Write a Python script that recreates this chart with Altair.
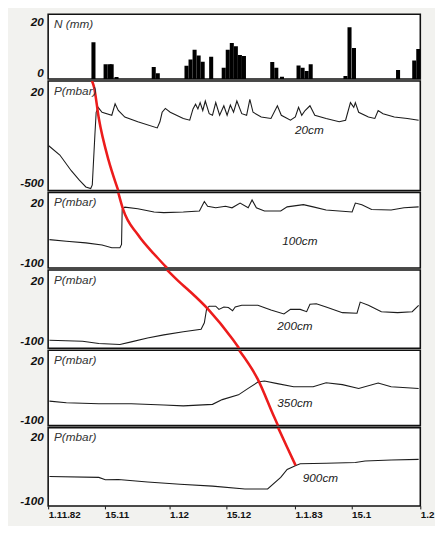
import json
import altair as alt
import pandas as pd

# ---------------- data (days since 1.11.1982) ----------------
tick_days = [0, 14, 30, 44, 61, 75, 92]
tick_labels = ["1.11.82", "15.11", "1.12", "15.12", "1.1.83", "15.1", "1.2"]

# precipitation N (mm): day start, amount
rain_day = [10.7, 13.7, 14.7, 15.2, 16.4, 25.6, 26.6, 33.7, 34.7, 35.7, 36.7, 37.7,
            39.8, 42.9, 43.9, 44.9, 45.9, 46.9, 47.9, 54.9, 55.9, 57.3,
            61.4, 62.4, 63.4, 64.4, 73.0, 74.0, 75.1, 86.0, 90.0, 91.0]
rain_mm = [12.8, 5.1, 5.1, 5.1, 0.7, 4.2, 2.0, 4.6, 6.8, 10.2, 8.2, 6.0,
           7.7, 3.9, 10.2, 12.5, 11.4, 8.3, 8.0, 5.9, 3.9, 0.8,
           4.7, 3.9, 2.8, 5.1, 1.0, 18.0, 10.8, 3.1, 6.4, 10.4]

# 20 cm
d20_day = [0.07, 2.89, 5.71, 7.71, 9.32, 10.52, 10.91, 11.56, 11.87, 12.36, 13.32, 15.73,
           16.55, 17.34, 18.95, 22.16, 26.97, 27.63, 28.18, 28.97, 30.18, 33.41, 35.0,
           35.81, 36.44, 37.02, 37.57, 38.22, 38.85, 39.81, 40.63, 41.43, 42.39, 43.43,
           44.24, 45.04, 45.83, 46.65, 47.86, 49.06, 49.86, 50.65, 52.67, 55.08, 56.67,
           57.64, 59.90, 61.10, 61.90, 62.69, 63.51, 64.72, 65.92, 68.71, 71.94, 73.53,
           74.73, 75.55, 75.94, 76.76, 79.17, 80.76, 81.58, 82.78, 85.57, 88.80, 91.59]
d20_val = [-287, -341, -430, -484, -522, -531, -511, -224, -98, -70, -98, -115,
           -50, -88, -125, -152, -187, -152, -98, -76, -98, -133, -143,
           -79, -52, -79, -43, -88, -34, -106, -115, -43, -115, -61,
           -115, -57, -98, -34, -106, -115, -25, -98, -125, -133, -61,
           -115, -143, -125, -70, -115, -88, -61, -115, -133, -152, -143,
           -43, -70, -43, -98, -125, -133, -88, -106, -125, -133, -143]

# 100 cm
d100_day = [0.31, 4.50, 9.32, 13.32, 15.73, 17.75, 18.14, 18.30, 18.95, 22.16, 26.18,
            28.59, 33.41, 37.40, 38.61, 39.42, 41.43, 43.83, 45.45, 47.45, 49.45, 50.41,
            51.47, 53.47, 57.49, 59.08, 63.10, 65.51, 68.71, 75.14, 75.94, 77.55, 79.96,
            84.78, 87.98, 91.59]
d100_val = [-54.9, -58.1, -61.3, -65.7, -70.9, -70.9, -64.4, 5.3, 9.9, 6.7, 0.4,
            -1.0, 0.4, 2.3, 21.3, 11.8, 8.6, 11.8, 8.6, 18.1, 8.6, 24.4,
            8.6, 2.3, 2.3, 10.5, 14.9, 10.5, 4.2, 0.4, 18.1, 14.9, 5.3,
            4.2, 8.6, 10.5]

# 200 cm
d200_day = [0.31, 8.50, 12.52, 17.75, 20.54, 24.57, 28.59, 33.41, 37.81, 38.61, 39.19,
            39.81, 41.43, 42.22, 43.43, 44.56, 45.59, 46.24, 47.86, 51.85, 55.08, 58.29,
            59.90, 62.31, 63.90, 64.72, 66.30, 68.71, 72.74, 76.35, 77.14, 79.17, 82.37,
            86.39, 90.0, 91.59]
d200_val = [-99.4, -101.3, -105.7, -107.6, -102.5, -94.9, -88.6, -82.3, -77.2, -64.4, -35.8,
            -31.4, -31.4, -37.7, -32.8, -33.9, -40.4, -32.8, -29.5, -29.5, -39.1, -46.7,
            -37.7, -37.7, -42.3, -27.6, -26.3, -32.8, -44.2, -45.3, -23.2, -29.5, -42.3,
            -44.2, -42.3, -29.5]

# 350 cm
d350_day = [0.31, 4.50, 12.52, 20.54, 28.59, 33.41, 40.63, 43.04, 47.04, 49.45, 51.85,
            53.47, 56.67, 60.69, 65.51, 68.71, 72.74, 76.76, 81.58, 84.78, 91.59]
d350_val = [-61.9, -65.1, -67.1, -67.1, -69.6, -71.5, -68.4, -58.8, -49.1, -36.1, -23.2,
            -21.2, -26.4, -32.8, -32.8, -24.5, -28.4, -36.1, -25.1, -32.8, -36.1]

# 900 cm
d900_day = [0.31, 12.52, 14.14, 17.34, 24.57, 32.59, 40.63, 48.65, 54.26, 57.49, 59.08,
            61.10, 62.31, 68.71, 75.94, 78.35, 84.78, 91.59]
d900_val = [-54.7, -56.5, -61.1, -60.6, -65.4, -69.6, -73.1, -78.5, -78.5, -56.5, -41.4,
            -34.3, -30.7, -29.6, -28.4, -25.3, -23.5, -22.4]

# red curve (arrival of the wetting front), piece in each panel
red20_day = [10.84, 11.32, 12.52, 14.93, 16.62, 17.34]
red20_val = [79.6, 47, -132, -370, -495, -543]
red100_day = [17.34, 18.55, 22.16, 26.97, 29.38]
red100_val = [39, 4.8, -44.8, -90.5, -111.4]
red200_day = [29.38, 32.27, 34.92, 39.74, 45.52, 47.21]
red200_val = [41, 18.1, -1, -39, -96.2, -115.3]
red350_day = [47.21, 51.78, 55.88, 56.84]
red350_val = [41.3, -16.8, -94.2, -111.6]
red900_day = [56.84, 58.99, 61.17]
red900_val = [37.9, 2.1, -33.7]

titles = ["N (mm)", "P(mbar)", "P(mbar)", "P(mbar)", "P(mbar)", "P(mbar)"]
depth_names = ["20cm", "100cm", "200cm", "350cm", "900cm"]

# ---------------- chart ----------------
W = 380
FONT = "Liberation Sans"
LINE = "#1c1c1c"
RED = "#ec1c1c"

label_expr_x = f"{json.dumps(tick_labels)}[indexof({json.dumps(tick_days)}, datum.value)]"


def xenc(field, bottom):
    if bottom:
        ax = alt.Axis(values=tick_days, labelExpr=label_expr_x, labelAlign="left",
                      labelFontWeight="bold", labelFontSize=10, labelFont=FONT,
                      labelColor="#111", tickSize=3, tickColor="#111", domain=False,
                      grid=False, title=None, labelPadding=1, labelOverlap=False,
                      labelFlush=True)
    else:
        ax = None
    return alt.X(f"{field}:Q", scale=alt.Scale(domain=[0, 92], nice=False, zero=False), axis=ax)


def yaxis(vals):
    return alt.Axis(values=vals, labelExpr="'' + datum.value", title=None, ticks=False,
                    domain=False, grid=False, labelFontWeight="bold", labelFontStyle="italic",
                    labelFontSize=12, labelFont=FONT, labelColor="#111", labelPadding=5,
                    minExtent=40, maxExtent=40, labelFlush=3)


def title_layer(t):
    return alt.Chart(pd.DataFrame({"t": [t]})).mark_text(
        align="left", baseline="middle", fontStyle="italic", fontSize=12, font=FONT,
        color="#333").encode(x=alt.value(6), y=alt.value(10), text="t:N")


def depth_layer(t, px, py):
    return alt.Chart(pd.DataFrame({"t": [t]})).mark_text(
        align="left", baseline="middle", fontStyle="italic", fontSize=12, font=FONT,
        color="#222").encode(x=alt.value(px), y=alt.value(py), text="t:N")


# panel 1: precipitation
rain_df = pd.DataFrame({"start": rain_day, "mm": rain_mm})
p1 = alt.layer(
    alt.Chart(rain_df).transform_calculate(end="datum.start + 1").mark_bar(
        color="black", clip=True).encode(
        x=xenc("start", False), x2="end:Q",
        y=alt.Y("mm:Q", scale=alt.Scale(domain=[0, 22.5], nice=False, zero=False),
                axis=yaxis([20, 0])),
        y2=alt.datum(0)),
    title_layer(titles[0]),
).properties(width=W, height=66)


def pressure_panel(days, vals, rdays, rvals, domain, lo_label, height, title,
                   depth, dpos, bottom=False):
    df = pd.DataFrame({"day": days, "value": vals})
    rdf = pd.DataFrame({"day": rdays, "value": rvals})
    yscale = alt.Scale(domain=domain, nice=False, zero=False)
    line = alt.Chart(df).mark_line(color=LINE, strokeWidth=1.1, clip=True).encode(
        x=xenc("day", bottom), y=alt.Y("value:Q", scale=yscale, axis=yaxis([20, lo_label])))
    red = alt.Chart(rdf).mark_line(color=RED, strokeWidth=2.6, interpolate="monotone",
                                   clip=True).encode(
        x=xenc("day", bottom), y=alt.Y("value:Q", scale=yscale))
    return alt.layer(line, red, title_layer(title), depth_layer(depth, *dpos)).properties(
        width=W, height=height)


p2 = pressure_panel(d20_day, d20_val, red20_day, red20_val, [-543, 80], -500, 112,
                    titles[1], depth_names[0], (252, 50))
p3 = pressure_panel(d100_day, d100_val, red100_day, red100_val, [-111.4, 39], -100, 77,
                    titles[2], depth_names[1], (239, 50))
p4 = pressure_panel(d200_day, d200_val, red200_day, red200_val, [-115.3, 41], -100, 80,
                    titles[3], depth_names[2], (234, 57))
p5 = pressure_panel(d350_day, d350_val, red350_day, red350_val, [-111.6, 41.3], -100, 77,
                    titles[4], depth_names[3], (234, 54))
p6 = pressure_panel(d900_day, d900_val, red900_day, red900_val, [-110.7, 37.9], -100, 80,
                    titles[5], depth_names[4], (260, 52), bottom=True)

chart = alt.vconcat(p1, p2, p3, p4, p5, p6, spacing=0).resolve_scale(
    x="independent", y="independent").properties(
    padding={"left": 0, "top": 0, "right": 0, "bottom": 0}).configure(
    background="#f2f2ef").configure_view(stroke="#111", strokeWidth=1.6, fill="white")

chart.save("out.html", embed_options={"renderer": "svg", "actions": False})
